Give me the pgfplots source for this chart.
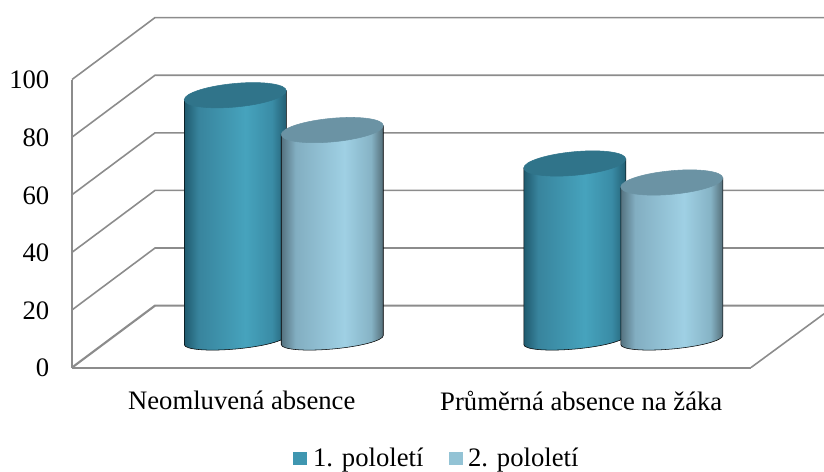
\documentclass[border=0pt]{standalone}
\usepackage{fontspec}
\setmainfont{Liberation Serif}
\usepackage{pgfplots}
\usepackage{pgfplotstable}
\pgfplotsset{compat=1.18}
\definecolor{gridc}{HTML}{8C8C8C}
\definecolor{capA}{HTML}{30748A}
\definecolor{capB}{HTML}{6B93A4}
\definecolor{legA}{HTML}{3F96B0}
\definecolor{legB}{HTML}{93C3D5}
\pgfdeclarehorizontalshading{cylA}{100bp}{rgb(0bp)=(0.122,0.353,0.431);
 rgb(25bp)=(0.122,0.353,0.431);
 rgb(32bp)=(0.22,0.518,0.616);
 rgb(55bp)=(0.275,0.639,0.741);
 rgb(68bp)=(0.227,0.549,0.651);
 rgb(75bp)=(0.137,0.373,0.451);
 rgb(100bp)=(0.137,0.373,0.451)}
\pgfdeclarehorizontalshading{cylB}{100bp}{rgb(0bp)=(0.333,0.451,0.502);
 rgb(25bp)=(0.333,0.451,0.502);
 rgb(32bp)=(0.51,0.682,0.757);
 rgb(56bp)=(0.624,0.816,0.894);
 rgb(69bp)=(0.525,0.702,0.773);
 rgb(75bp)=(0.333,0.435,0.478);
 rgb(100bp)=(0.333,0.435,0.478)}
\pgfdeclareplotmark{nothing}{}
% a cylinder hanging from its top centre; #1 shading, #2 cap colour
\newcommand{\cylinder}[2]{%
  \pgfmathsetmacro{\H}{\val*2.88}%
  \begin{scope}[x=0.75pt,y=0.75pt]
    \shade[shading=#1]
      (-51,-4.5) -- (-51,-\H-4.5)
      .. controls (-51,-\H-9.5) and (-28.2,-\H-11.48) .. (0,-\H-9)
      .. controls (28.2,-\H-6.52) and (51,-\H-0.5) .. (51,-\H+4.5)
      -- (51,4.5) -- cycle;
    \fill[#2] (-51,-4.5)
      .. controls (-51,2.02) and (-28.2,9.32) .. (0,11.8)
      .. controls (28.2,14.28) and (51,11.02) .. (51,4.5)
      .. controls (51,-2.02) and (28.2,-9.32) .. (0,-11.8)
      .. controls (-28.2,-14.28) and (-51,-11.02) .. (-51,-4.5) -- cycle;
  \end{scope}%
}
\pgfplotstableread{
cat v
0 85.0
1 61.3
}\semA
\pgfplotstableread{
cat v
0 72.9
1 54.7
}\semB
\begin{document}
\begin{tikzpicture}
\useasboundingbox (0,0) rectangle (618pt,353.25pt);
\begin{axis}[
  at={(54pt,77.6pt)}, anchor=south west,
  scale only axis, width=509.25pt, height=216pt,
  xmin=-0.5, xmax=1.5, ymin=0, ymax=100,
  clip=false,
  axis x line=bottom, axis y line=left,
  axis line style={draw=gridc, line width=1.5pt, -},
  xtick={0,1},
  xticklabels={Neomluvená absence, Průměrná absence na žáka},
  ytick={0,20,40,60,80,100},
  major tick length=0pt,
  tick label style={font=\fontsize{20}{23}\selectfont},
  /pgf/number format/assume math mode=true,
  yticklabel style={xshift=-13.5pt, yshift=-0.5pt},
  xticklabel style={yshift=-14pt},
  legend style={draw=none, fill=none, at={(0.538,-0.316)}, anchor=center,
    font=\fontsize{20}{23}\selectfont, legend columns=2,
    /tikz/every odd column/.append style={column sep=2.2pt},
    /tikz/every even column/.append style={column sep=16.8pt}},
  legend image code/.code={\fill[#1,draw=none] (0pt,-5.2pt) rectangle (10.5pt,5.2pt);},
  grid lines/.style={draw=gridc, line width=1.2pt, forget plot},
]
% walls
\addplot[grid lines] coordinates {(-0.5,20) (-0.2555,41.5) (1.715,41.5)};
\addplot[grid lines] coordinates {(-0.5,40) (-0.2555,61.5) (1.715,61.5)};
\addplot[grid lines] coordinates {(-0.5,60) (-0.2555,81.5) (1.715,81.5)};
\addplot[grid lines] coordinates {(-0.5,80) (-0.2555,101.5) (1.715,101.5)};
\addplot[grid lines] coordinates {(-0.5,100) (-0.2555,121.5) (1.715,121.5)};
\addplot[grid lines, line width=1.6pt] coordinates {(-0.5,0) (-0.2555,21.5) (1.715,21.5)};
\addplot[grid lines] coordinates {(1.5,0) (1.715,18.65)};
% cylinders
\addplot[scatter, only marks, mark=nothing, forget plot,
  visualization depends on={\thisrow{v} \as \val},
  scatter/@pre marker code/.code={\cylinder{cylA}{capA}},
  scatter/@post marker code/.code={}]
  table[x expr=\thisrow{cat}-0.0191, y expr=\thisrow{v}+9.55] {\semA};
\addplot[scatter, only marks, mark=nothing, forget plot,
  visualization depends on={\thisrow{v} \as \val},
  scatter/@pre marker code/.code={\cylinder{cylB}{capB}},
  scatter/@post marker code/.code={}]
  table[x expr=\thisrow{cat}+0.2666, y expr=\thisrow{v}+9.55] {\semB};
\addlegendimage{fill=legA}
\addlegendentry{1. pololetí}
\addlegendimage{fill=legB}
\addlegendentry{2. pololetí}
\end{axis}
\end{tikzpicture}
\end{document}
